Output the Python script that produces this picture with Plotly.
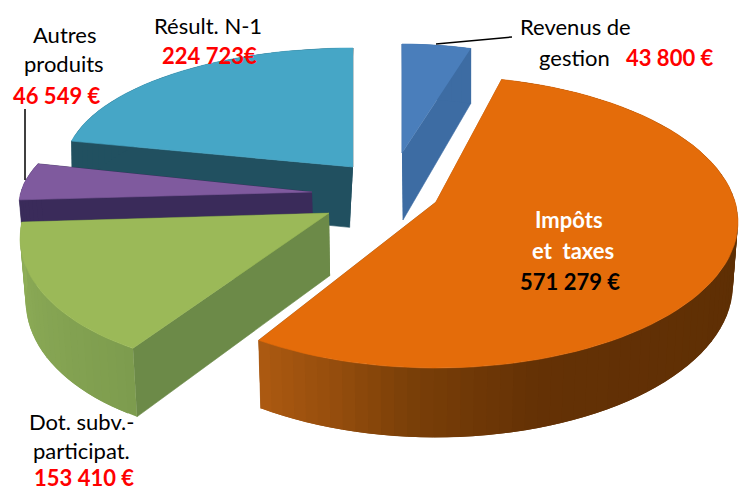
import numpy as np
import plotly.graph_objects as go

categories = ["Revenus de gestion", "Impôts et taxes", "Dot. subv.-participat.", "Autres produits", "Résult. N-1"]
values = [43800, 571279, 153410, 46549, 224723]

W, H = 748, 491
FACE = ["#4A7EBB", "#E46C0A", "#9BB958", "#7F5A9E", "#46A6C6"]
RADIAL = ["#3D6CA3", "#A5560F", "#6C8A48", "#3A2B5A", "#215060"]
RIM = [
    [(0, "#3D6CA3"), (1, "#3D6CA3")],
    [(100, "#5E2F04"), (160, "#643105"), (185, "#7A3F08"), (200, "#964E0D"), (216, "#AD5A11")],
    [(212, "#7D9C4E"), (277, "#8FAE58")],
    [(272, "#3A2B5A"), (292, "#3A2B5A")],
    [(282, "#215060"), (360, "#215060")],
]
# projection of each exploded slice: ellipse centre and radii, apex, angle skew, wall depth
GEOM = [
    dict(cx=402, cy=173, rx=263, ry=129, ax=402, ay=153, s0=0.0, s1=0.0, d0=55, k=0.114, dx=1),
    dict(cx=436, cy=222, rx=302, ry=146, ax=436, ay=202, s0=-2.6, s1=3.0, d0=55, k=0.045, dx=0),
    dict(cx=260, cy=238, rx=240, ry=130, ax=329, ay=213, s0=-1.0, s1=11.0, d0=55, k=0.045, dx=0),
    dict(cx=280, cy=205, rx=261, ry=110, ax=312, ay=192, s0=6.6, s1=9.8, d0=55, k=0.045, dx=0),
    dict(cx=353, cy=166, rx=288, ry=118, ax=353, ay=167, s0=0.0, s1=0.0, d0=55, k=0.045, dx=-4),
]
ORDER = [4, 3, 0, 2, 1]

total = sum(values)
cum = np.concatenate([[0], np.cumsum(values)]) / total * 360.0


def hex2rgb(c):
    return np.array([int(c[i:i + 2], 16) for i in (1, 3, 5)], float)


def ramp(stops, t):
    ts = [s[0] for s in stops]
    cols = np.array([hex2rgb(s[1]) for s in stops])
    r = [np.interp(t, ts, cols[:, i]) for i in range(3)]
    return "rgb(%d,%d,%d)" % tuple(int(round(v)) for v in r)


def down(x, y, g):
    d = g["d0"] + g["k"] * (y - 48)
    return 400 + (x - 400) * 0.985 + g["dx"], y + d


def poly(fig, xs, ys, color, width=0.6):
    fig.add_trace(go.Scatter(
        x=list(xs), y=list(ys), mode="lines", fill="toself", fillcolor=color,
        line=dict(color=color, width=width), hoverinfo="skip", showlegend=False))


fig = go.Figure()
for i in ORDER:
    g = GEOM[i]
    t0, t1 = cum[i] + g["s0"], cum[i + 1] + g["s1"]
    ts = np.linspace(t0, t1, max(8, int((t1 - t0) / 2.5)))
    rad = np.radians(ts)
    rx = g["cx"] + g["rx"] * np.sin(rad)
    ry = g["cy"] - g["ry"] * np.cos(rad)
    # radial walls
    for px, py in ((rx[-1], ry[-1]), (rx[0], ry[0])):
        bx, by = down(px, py, g)
        ax2, ay2 = down(g["ax"], g["ay"], g)
        poly(fig, [g["ax"], px, bx, ax2], [g["ay"], py, by, ay2], RADIAL[i])
    # rim wall, in shaded bands; each band runs under the next so no seams show
    for j in range(len(ts) - 1):
        k = min(j + 2, len(ts) - 1)
        xs = [rx[m] for m in range(j, k + 1)]
        ys = [ry[m] for m in range(j, k + 1)]
        for m in range(k, j - 1, -1):
            b = down(rx[m], ry[m], g)
            xs.append(b[0])
            ys.append(b[1])
        poly(fig, xs, ys, ramp(RIM[i], (ts[j] + ts[j + 1]) / 2), width=0)
    # top face
    poly(fig, np.r_[g["ax"], rx], np.r_[g["ay"], ry], FACE[i])

FONT = "Lato, Carlito, Calibri, sans-serif"
labels = [
    ("Autres", 64, 34, "#000000", False), ("produits", 64, 63, "#000000", False),
    ("46 549 €", 56, 95, "#FF0000", True),
    ("Résult. N-1", 208, 25, "#000000", False), ("224 723€", 209, 55, "#FF0000", True),
    ("Revenus de", 575, 26, "#000000", False), ("gestion", 574, 57, "#000000", False),
    ("43 800 €", 669, 57, "#FF0000", True),
    ("Impôts", 569, 219, "#FFFFFF", True), ("et  taxes", 573, 250, "#FFFFFF", True),
    ("571 279 €", 570, 281, "#000000", True),
    ("Dot. subv.-", 81, 421, "#000000", False), ("participat.", 81, 450, "#000000", False),
    ("153 410 €", 84, 477, "#FF0000", True),
]
annotations = [
    dict(x=x, y=y, text=f"<b>{t}</b>" if b else t, showarrow=False, xanchor="center",
         yanchor="middle", xref="x", yref="y",
         font=dict(family=FONT, size=22, color=c))
    for t, x, y, c, b in labels
]
shapes = [
    dict(type="line", x0=436, y0=44, x1=512, y1=37, xref="x", yref="y",
         line=dict(color="#000000", width=1.5)),
    dict(type="line", x0=25, y0=109, x1=25, y1=180, xref="x", yref="y",
         line=dict(color="#000000", width=1.5)),
]

fig.update_layout(
    width=W, height=H, margin=dict(l=0, r=0, t=0, b=0), showlegend=False,
    paper_bgcolor="#FFFFFF", plot_bgcolor="#FFFFFF",
    xaxis=dict(range=[0, W], visible=False, fixedrange=True),
    yaxis=dict(range=[H, 0], visible=False, fixedrange=True),
    annotations=annotations, shapes=shapes,
)
fig.write_html("out.html", config={"displayModeBar": False},
               post_script="document.body.style.margin='0';")
